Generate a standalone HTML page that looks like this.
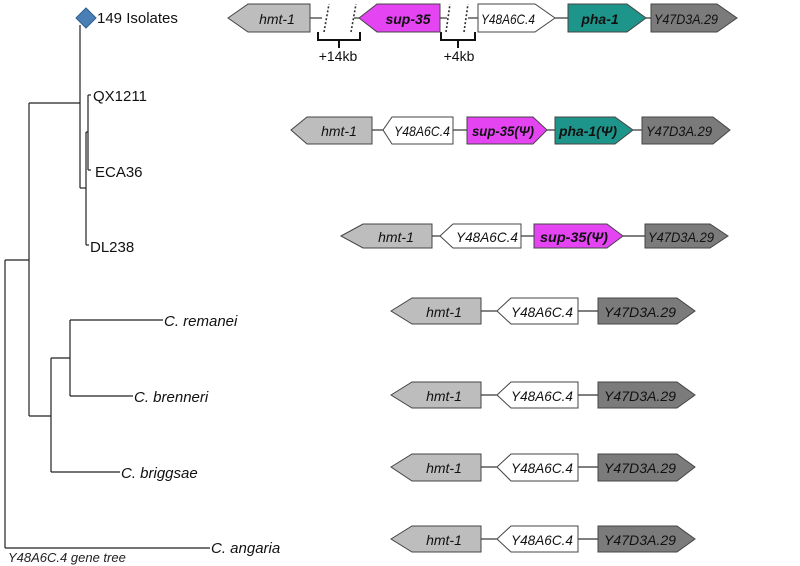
<!DOCTYPE html>
<html><head><style>
html,body{margin:0;padding:0;background:#fff;}
svg{display:block;}
text{font-family:"Liberation Sans",sans-serif;}
.g{font-style:italic;font-size:14px;text-anchor:middle;fill:#111;}
.b{font-weight:bold;}
.sp{font-style:italic;font-size:15px;fill:#111;}
.t{font-size:15px;fill:#111;}
</style></head><body>
<svg width="800" height="566" viewBox="0 0 800 566" xmlns="http://www.w3.org/2000/svg">
<g stroke="#222" stroke-width="1.2" fill="none">
<line x1="80" y1="25" x2="80" y2="188"/>
<line x1="80" y1="188" x2="86" y2="188"/>
<line x1="86" y1="132" x2="86" y2="245"/>
<line x1="86" y1="132" x2="88" y2="132"/>
<line x1="88" y1="95" x2="88" y2="170"/>
<line x1="88" y1="95" x2="91" y2="95"/>
<line x1="88" y1="170" x2="91" y2="170"/>
<line x1="86" y1="245" x2="89" y2="245"/>
<line x1="29" y1="103" x2="80" y2="103"/>
<line x1="29" y1="103" x2="29" y2="416"/>
<line x1="5" y1="260" x2="29" y2="260"/>
<line x1="5" y1="260" x2="5" y2="548"/>
<line x1="5" y1="548" x2="210" y2="548"/>
<line x1="29" y1="416" x2="51" y2="416"/>
<line x1="51" y1="358" x2="51" y2="472"/>
<line x1="51" y1="472" x2="120" y2="472"/>
<line x1="51" y1="358" x2="70" y2="358"/>
<line x1="70" y1="320" x2="70" y2="396"/>
<line x1="70" y1="320" x2="163" y2="320"/>
<line x1="70" y1="396" x2="133" y2="396"/>
</g>
<polygon points="86,8 96,18 86,28 76,18" fill="#4a7fb5" stroke="#2f5f8f"/>
<text class="t" x="97" y="23">149 Isolates</text>
<text class="t" x="93" y="101">QX1211</text>
<text class="t" x="95" y="177">ECA36</text>
<text class="t" x="90" y="252">DL238</text>
<text class="sp" x="164" y="326">C. remanei</text>
<text class="sp" x="134" y="402">C. brenneri</text>
<text class="sp" x="121" y="478">C. briggsae</text>
<text class="sp" x="211" y="553">C. angaria</text>
<text x="8" y="562" style="font-style:italic;font-size:13px;fill:#222">Y48A6C.4 gene tree</text>

<g stroke="#333" stroke-width="1.2">
<line x1="310" y1="18" x2="322" y2="18"/>
<line x1="354" y1="18" x2="359" y2="18"/>
<line x1="440" y1="18" x2="447" y2="18"/>
<line x1="468" y1="18" x2="478" y2="18"/>
<line x1="555" y1="18" x2="568" y2="18"/>
<line x1="646" y1="18" x2="651" y2="18"/>
<line x1="372" y1="130" x2="383" y2="130"/>
<line x1="453" y1="130" x2="467" y2="130"/>
<line x1="547" y1="130" x2="555" y2="130"/>
<line x1="633" y1="130" x2="642" y2="130"/>
<line x1="432" y1="236" x2="440" y2="236"/>
<line x1="521" y1="236" x2="534" y2="236"/>
<line x1="623" y1="236" x2="645" y2="236"/>
<line x1="481" y1="311" x2="497" y2="311"/><line x1="578" y1="311" x2="598" y2="311"/>
<line x1="481" y1="395" x2="497" y2="395"/><line x1="578" y1="395" x2="598" y2="395"/>
<line x1="481" y1="467" x2="497" y2="467"/><line x1="578" y1="467" x2="598" y2="467"/>
<line x1="481" y1="539" x2="497" y2="539"/><line x1="578" y1="539" x2="598" y2="539"/>
</g>
<g stroke="#333" stroke-width="1.6" stroke-dasharray="2,2">
<line x1="324" y1="32" x2="329" y2="4"/>
<line x1="351" y1="32" x2="356" y2="4"/>
<line x1="446" y1="32" x2="450" y2="4"/>
<line x1="464" y1="32" x2="468" y2="4"/>
</g>
<g stroke="#111" stroke-width="2" fill="none">
<polyline points="318,32 318,40 360,40 360,32"/>
<line x1="339" y1="40" x2="339" y2="48"/>
<polyline points="441,32 441,40 475,40 475,32"/>
<line x1="458" y1="40" x2="458" y2="48"/>
</g>
<text x="338" y="61" style="font-size:14px;text-anchor:middle;fill:#111">+14kb</text>
<text x="459" y="61" style="font-size:14px;text-anchor:middle;fill:#111">+4kb</text>

<g stroke="#444" stroke-width="1">
<polygon points="228,18 248,4 310,4 310,32 248,32" fill="#bdbdbd"/>
<polygon points="359,18 377,4 440,4 440,32 377,32" fill="#e444f2"/>
<polygon points="478,4 535,4 555,18 535,32 478,32" fill="#fff"/>
<polygon points="568,4 627,4 646,18 627,32 568,32" fill="#1e958a"/>
<polygon points="651,4 717,4 737,18 717,32 651,32" fill="#7b7b7b"/>
<polygon points="291,130 307,117 372,117 372,144 307,144" fill="#bdbdbd"/>
<polygon points="383,130 392,117 453,117 453,144 392,144" fill="#fff"/>
<polygon points="467,117 533,117 547,130 533,144 467,144" fill="#e444f2"/>
<polygon points="555,117 615,117 633,130 615,144 555,144" fill="#1e958a"/>
<polygon points="642,117 713,117 730,130 713,144 642,144" fill="#7b7b7b"/>
<polygon points="341,236 363,224 432,224 432,248 363,248" fill="#bdbdbd"/>
<polygon points="440,236 453,224 521,224 521,248 453,248" fill="#fff"/>
<polygon points="534,224 607,224 623,236 607,248 534,248" fill="#e444f2"/>
<polygon points="645,224 710,224 728,236 710,248 645,248" fill="#7b7b7b"/>
<polygon points="391,311 412,298 481,298 481,324 412,324" fill="#bdbdbd"/>
<polygon points="497,311 511,298 578,298 578,324 511,324" fill="#fff"/>
<polygon points="598,298 677,298 695,311 677,324 598,324" fill="#7b7b7b"/>
<polygon points="391,395 412,382 481,382 481,408 412,408" fill="#bdbdbd"/>
<polygon points="497,395 511,382 578,382 578,408 511,408" fill="#fff"/>
<polygon points="598,382 677,382 695,395 677,408 598,408" fill="#7b7b7b"/>
<polygon points="391,467 412,454 481,454 481,481 412,481" fill="#bdbdbd"/>
<polygon points="497,467 511,454 578,454 578,481 511,481" fill="#fff"/>
<polygon points="598,454 677,454 695,467 677,481 598,481" fill="#7b7b7b"/>
<polygon points="391,539 412,526 481,526 481,552 412,552" fill="#bdbdbd"/>
<polygon points="497,539 511,526 578,526 578,552 511,552" fill="#fff"/>
<polygon points="598,526 677,526 695,539 677,552 598,552" fill="#7b7b7b"/>
</g>

<text class="g" x="277" y="24">hmt-1</text>
<text class="g b" x="408" y="24">sup-35</text>
<text class="g" x="508" y="24" textLength="54" lengthAdjust="spacingAndGlyphs">Y48A6C.4</text>
<text class="g b" x="600" y="24">pha-1</text>
<text class="g" x="686" y="24" textLength="64" lengthAdjust="spacingAndGlyphs">Y47D3A.29</text>

<text class="g" x="339" y="136">hmt-1</text>
<text class="g" x="422" y="136" textLength="56" lengthAdjust="spacingAndGlyphs">Y48A6C.4</text>
<text class="g b" x="503" y="136" textLength="62" lengthAdjust="spacingAndGlyphs">sup-35(Ψ)</text>
<text class="g b" x="588" y="136" textLength="58" lengthAdjust="spacingAndGlyphs">pha-1(Ψ)</text>
<text class="g" x="679" y="136" textLength="66" lengthAdjust="spacingAndGlyphs">Y47D3A.29</text>

<text class="g" x="396" y="242">hmt-1</text>
<text class="g" x="487" y="242" textLength="62" lengthAdjust="spacingAndGlyphs">Y48A6C.4</text>
<text class="g b" x="574" y="242" textLength="68" lengthAdjust="spacingAndGlyphs">sup-35(Ψ)</text>
<text class="g" x="681" y="242" textLength="66" lengthAdjust="spacingAndGlyphs">Y47D3A.29</text>

<text class="g" x="444" y="317">hmt-1</text>
<text class="g" x="542" y="317" textLength="62" lengthAdjust="spacingAndGlyphs">Y48A6C.4</text>
<text class="g" x="640" y="317" textLength="72" lengthAdjust="spacingAndGlyphs">Y47D3A.29</text>
<text class="g" x="444" y="401">hmt-1</text>
<text class="g" x="542" y="401" textLength="62" lengthAdjust="spacingAndGlyphs">Y48A6C.4</text>
<text class="g" x="640" y="401" textLength="72" lengthAdjust="spacingAndGlyphs">Y47D3A.29</text>
<text class="g" x="444" y="473">hmt-1</text>
<text class="g" x="542" y="473" textLength="62" lengthAdjust="spacingAndGlyphs">Y48A6C.4</text>
<text class="g" x="640" y="473" textLength="72" lengthAdjust="spacingAndGlyphs">Y47D3A.29</text>
<text class="g" x="444" y="545">hmt-1</text>
<text class="g" x="542" y="545" textLength="62" lengthAdjust="spacingAndGlyphs">Y48A6C.4</text>
<text class="g" x="640" y="545" textLength="72" lengthAdjust="spacingAndGlyphs">Y47D3A.29</text>
</svg>
</body></html>
